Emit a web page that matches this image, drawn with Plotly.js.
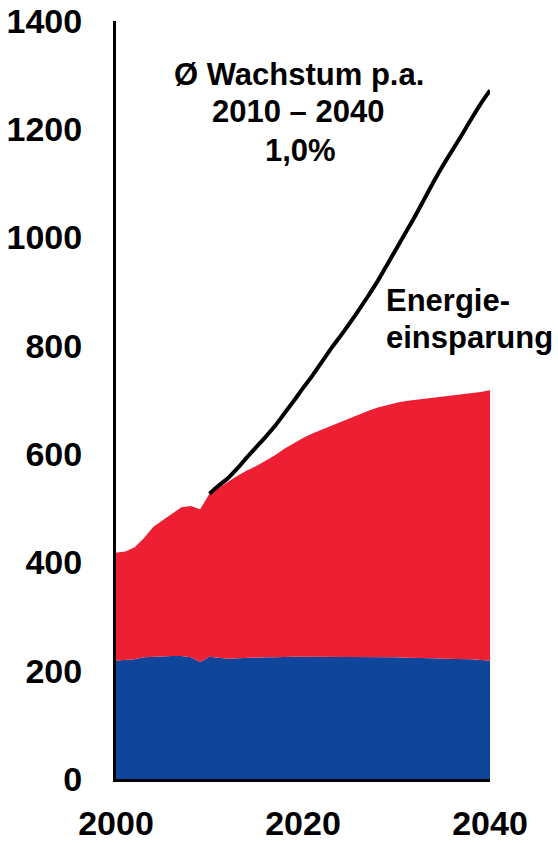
<!DOCTYPE html>
<html>
<head>
<meta charset="utf-8">
<script src="https://cdn.plot.ly/plotly-3.0.1.min.js"></script>
<style>
  html, body { margin: 0; padding: 0; background: #ffffff; }
  #chart { width: 558px; height: 843px; }
</style>
</head>
<body>
<div id="chart"></div>
<script>
// Years 2000..2040
const years = [2000,2001,2002,2003,2004,2005,2006,2007,2008,2009,2010,
               2011,2012,2013,2014,2015,2016,2017,2018,2019,2020,
               2021,2022,2023,2024,2025,2026,2027,2028,2029,2030,
               2031,2032,2033,2034,2035,2036,2037,2038,2039,2040];

// Lower (blue) component
const blueValues = [219,220,221,225,226,226,227,227,225,216,226,
                    224,222,223,224,225,225,225,226,226,226,
                    226,226,226,226,226,226,226,226,225,225,
                    224,224,223,223,222,222,221,221,220,219];

// Total (top of red area)
const totalValues = [418,420,428,445,466,478,490,502,504,498,527,
                     538,550,560,570,578,588,598,610,620,630,
                     638,645,653,660,667,674,680,686,691,695,
                     698,700,702,704,707,709,711,713,715,718];

// Projection without energy savings (black line), 2010..2040
const lineYears = [2010,2011,2012,2013,2014,2015,2016,2017,2018,2019,2020,
                   2021,2022,2023,2024,2025,2026,2027,2028,2029,2030,
                   2031,2032,2033,2034,2035,2036,2037,2038,2039,2040];
const lineValues = [527,542,556,574,594,613,632,652,675,698,722,
                    745,770,795,818,842,867,893,920,950,980,
                    1010,1040,1072,1104,1134,1162,1190,1219,1247,1272];

const yTicks = [0,200,400,600,800,1000,1200,1400];
const xTicks = [2000,2020,2040];

const FONT = 'Liberation Sans, Arial, sans-serif';

const traces = [
  {
    x: years, y: blueValues, type: 'scatter', mode: 'lines',
    fill: 'tozeroy', fillcolor: '#0F469B',
    line: {color: '#0F469B', width: 0}, hoverinfo: 'skip', showlegend: false
  },
  {
    x: years, y: totalValues, type: 'scatter', mode: 'lines',
    fill: 'tonexty', fillcolor: '#EE1F33',
    line: {color: '#EE1F33', width: 0}, hoverinfo: 'skip', showlegend: false
  },
  {
    x: lineYears, y: lineValues, type: 'scatter', mode: 'lines',
    line: {color: '#000000', width: 4, shape: 'spline', smoothing: 0.8},
    hoverinfo: 'skip', showlegend: false
  }
];

const px = v => (v - 116) / 374;
const py = v => 1 - (v - 21) / 758;

const annFont = s => ({family: FONT, size: s, color: '#000', weight: 700});

const layout = {
  width: 558, height: 843,
  margin: {l: 116, r: 68, t: 21, b: 64},
  paper_bgcolor: '#ffffff', plot_bgcolor: '#ffffff',
  showlegend: false,
  xaxis: {
    range: [2000, 2040], tickvals: xTicks, ticktext: xTicks.map(String),
    showgrid: false, zeroline: false, showline: true, linecolor: '#000', linewidth: 3,
    ticks: '', ticklabelstandoff: 12,
    tickfont: {family: FONT, size: 34, color: '#000', weight: 700}
  },
  yaxis: {
    range: [0, 1400], tickvals: yTicks, ticktext: yTicks.map(String),
    showgrid: false, zeroline: false, showline: true, linecolor: '#000', linewidth: 3,
    ticks: '', ticklabelstandoff: 24,
    tickfont: {family: FONT, size: 34, color: '#000', weight: 700}
  },
  annotations: [
    {xref: 'paper', yref: 'paper', x: px(299), y: py(74), xanchor: 'center', yanchor: 'middle',
     text: 'Ø Wachstum p.a.', showarrow: false, font: annFont(31)},
    {xref: 'paper', yref: 'paper', x: px(298), y: py(112), xanchor: 'center', yanchor: 'middle',
     text: '2010 – 2040', showarrow: false, font: annFont(31)},
    {xref: 'paper', yref: 'paper', x: px(300), y: py(151), xanchor: 'center', yanchor: 'middle',
     text: '1,0%', showarrow: false, font: annFont(31)},
    {xref: 'paper', yref: 'paper', x: px(384), y: py(300), xanchor: 'left', yanchor: 'middle',
     text: 'Energie-', showarrow: false, font: annFont(31)},
    {xref: 'paper', yref: 'paper', x: px(384), y: py(337), xanchor: 'left', yanchor: 'middle',
     text: 'einsparung', showarrow: false, font: annFont(31)}
  ]
};

Plotly.newPlot('chart', traces, layout, {displayModeBar: false, staticPlot: true});
</script>
</body>
</html>
